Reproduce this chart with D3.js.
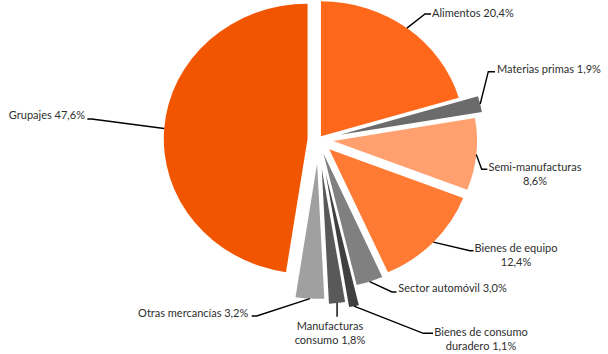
<!DOCTYPE html>
<html>
<head>
<meta charset="utf-8">
<script src="https://cdn.jsdelivr.net/npm/d3@7"></script>
<style>
  html, body { margin: 0; padding: 0; background: #fff; }
  svg { display: block; }
  text { font-family: Lato, "Open Sans", sans-serif; font-size: 11px; fill: #2e2e2e; }
</style>
</head>
<body>
<svg id="chart" width="608" height="354"></svg>
<script>
// ---- data ----
const categories = ["Alimentos", "Materias primas", "Semi-manufacturas", "Bienes de equipo",
  "Sector automóvil", "Bienes de consumo duradero", "Manufacturas consumo", "Otras mercancías", "Grupajes"];
const values = [20.4, 1.9, 8.6, 12.4, 3.0, 1.1, 1.8, 3.2, 47.6];
const labelLines = [["Alimentos 20,4%"], ["Materias primas 1,9%"], ["Semi-manufacturas", "8,6%"],
  ["Bienes de equipo", "12,4%"], ["Sector automóvil 3,0%"], ["Bienes de consumo", "duradero 1,1%"],
  ["Manufacturas", "consumo 1,8%"], ["Otras mercancías 3,2%"], ["Grupajes 47,6%"]];

// ---- styles / layout ----
const colors = ["#FF671A", "#6B6B6B", "#FFA06E", "#FF7A33", "#808080", "#404040", "#595959", "#A0A0A0", "#F25500"];
const explode = [4, 21, 14, 14, 15, 35, 29.5, 24.4, 10.2];
const cx = 318.4, cy = 139.5, R = 135, sx = 1.065;
// label layout: text position, anchor, leader elbow points (after the computed start on the slice)
const labelLayout = [
  { x: 432, y: 12.5, anchor: "start", pts: [[425, 14], [431, 14]] },
  { x: 497, y: 69, anchor: "start", pts: [[488.3, 71.7], [495, 71.7]] },
  { x: 535, y: 166.7, anchor: "middle", pts: [[481.7, 169.3], [487.3, 169.3]] },
  { x: 516, y: 247.7, anchor: "middle", pts: [[470, 250.7], [473.5, 250.7]] },
  { x: 398.3, y: 288.3, anchor: "start", pts: [[392, 292], [396.5, 292]] },
  { x: 481, y: 331.7, anchor: "middle", pts: [[423.3, 333.3], [433, 333.3]] },
  { x: 330, y: 325.7, anchor: "middle", pts: [["v", 316.7]] },
  { x: 248.3, y: 313.3, anchor: "end", pts: [[256.7, 316], [251.7, 316]] },
  { x: 85, y: 115, anchor: "end", pts: [[91.7, 119], [87.3, 119]] }
];

const svg = d3.select("#chart");
const pie = d3.pie().sort(null).value(d => d)(values);
const arc = d3.arc().innerRadius(0).outerRadius(R);

const g = svg.append("g").attr("transform", `translate(${cx},${cy}) scale(${sx},1)`);

pie.forEach((p, i) => {
  const mid = (p.startAngle + p.endAngle) / 2;
  const ox = Math.sin(mid) * explode[i], oy = -Math.cos(mid) * explode[i];
  g.append("path")
    .attr("d", arc(p))
    .attr("transform", `translate(${ox},${oy})`)
    .attr("fill", colors[i]);
});

// leader lines and labels
const lineGen = d3.line();
pie.forEach((p, i) => {
  const mid = (p.startAngle + p.endAngle) / 2;
  const d = explode[i];
  const sxp = cx + sx * Math.sin(mid) * (d + R);
  const syp = cy - Math.cos(mid) * (d + R);
  const L = labelLayout[i];
  const pts = [[sxp, syp]];
  L.pts.forEach(q => { if (q[0] === "v") pts.push([sxp, q[1]]); else pts.push(q); });
  svg.append("path").attr("d", lineGen(pts)).attr("fill", "none")
    .attr("stroke", "#000").attr("stroke-width", 1.4);
  const t = svg.append("text").attr("text-anchor", L.anchor);
  labelLines[i].forEach((s, k) => {
    t.append("tspan").attr("x", L.x).attr("y", L.y + k * 14 + 4).text(s);
  });
});
</script>
</body>
</html>
